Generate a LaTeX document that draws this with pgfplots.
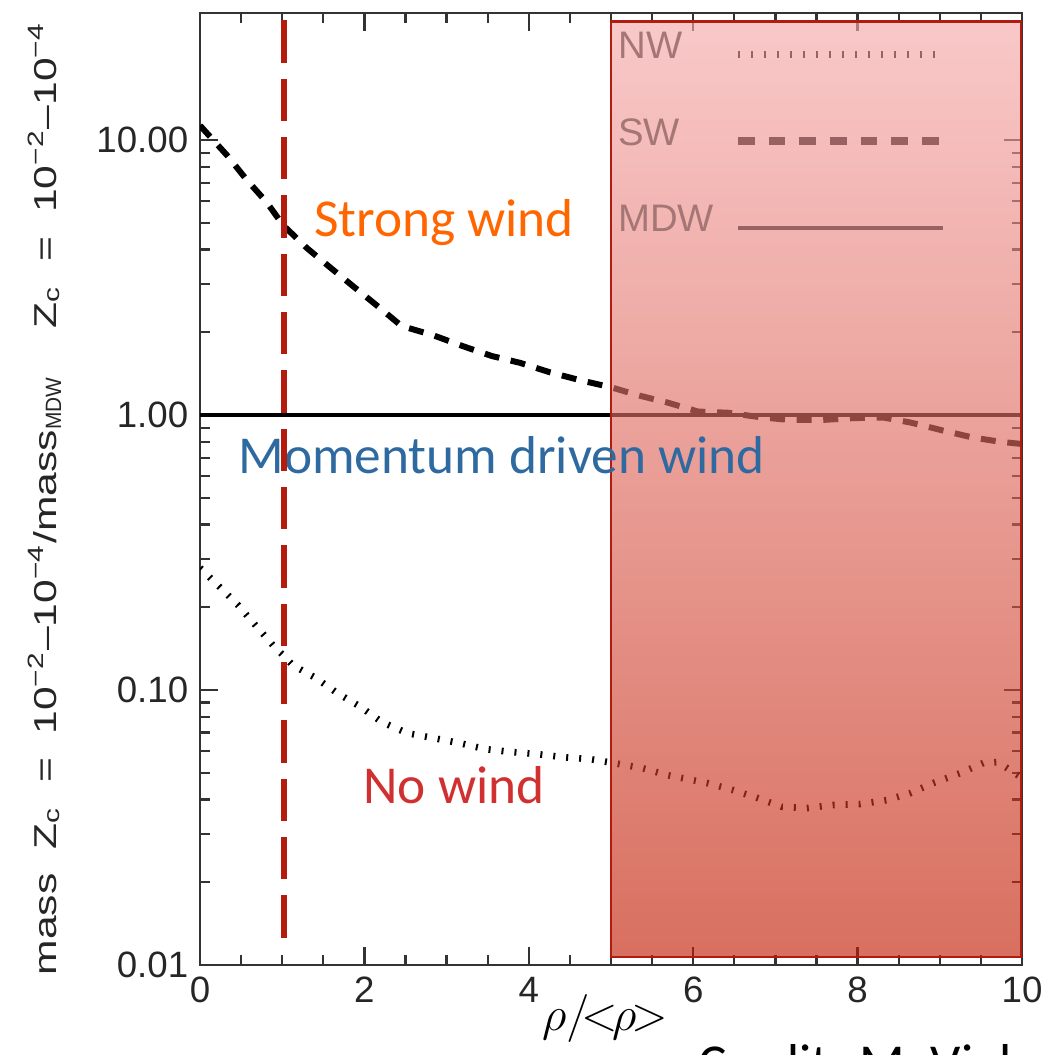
\documentclass[border=0pt]{standalone}
\usepackage{graphicx}
\usepackage{fontspec}
\setmainfont{Liberation Sans}
\newfontfamily\carlito{Carlito}
\usepackage{pgfplots}
\pgfplotsset{compat=1.18}

\definecolor{legline}{RGB}{152,98,98}
\definecolor{legtext}{RGB}{165,118,118}
\definecolor{rectTop}{RGB}{245,169,169}
\definecolor{rectBot}{RGB}{194,31,6}
\definecolor{rectEdge}{RGB}{176,28,16}
\definecolor{vline}{RGB}{180,28,14}
\definecolor{orangeT}{RGB}{255,102,0}
\definecolor{blueT}{RGB}{46,106,160}
\definecolor{redT}{RGB}{208,48,48}

\begin{document}
\begin{tikzpicture}
\begin{axis}[
  scale only axis, width=246.6pt, height=285.6pt,
  xmin=0, xmax=10, ymode=log, ymin=0.01, ymax=29,
  xtick={0,2,4,6,8,10}, xticklabels={0,2,4,6,8,10},
  minor x tick num=3,
  ytick={0.01,0.1,1,10}, yticklabels={0.01,0.10,1.00,10.00},
  major tick length=5.5pt, minor tick length=3pt,
  tick align=inside,
  axis line style={black!80, line width=0.8pt},
  every tick/.style={black!80, line width=0.7pt},
  xticklabel style={font=\fontsize{11}{13}\selectfont, text=black!85},
  yticklabel style={font=\fontsize{11}{13}\selectfont, text=black!85},
  xlabel={$\rho/\mkern-3mu{<}\mkern-2mu\rho\mkern-2mu{>}$},
  xlabel style={at={(axis description cs:0.493,-0.056)}, anchor=center, font=\fontsize{15}{17}\selectfont},
  ylabel={\resizebox{286pt}{\height}{mass~~Z\textsubscript{c}~~=~~10\textsuperscript{−2}–10\textsuperscript{−4}/mass\textsubscript{\scalebox{0.7}[1]{MDW}}~~~~Z\textsubscript{c}~~=~~10\textsuperscript{−2}–10\textsuperscript{−4}}},
  ylabel style={at={(axis description cs:-0.189,0.49)}, anchor=center, font=\fontsize{9.5}{11}\selectfont, text=black!85},
  legend style={at={(axis cs:5.0,26.2)}, anchor=north west, draw=none, fill=none,
    font=\fontsize{11.5}{13}\selectfont\color{legtext}, row sep=12.5pt, column sep=4pt, inner sep=0pt,
    cells={anchor=west}},
  legend plot pos=right,
  legend image code/.code={\draw[#1] (0pt,-2pt) -- (61.5pt,-2pt);},
]
% NW
\addplot[forget plot, black, line width=2pt, dash pattern=on 0.6pt off 3.3pt] coordinates {
(0,0.278) (0.24,0.237) (0.46,0.204) (0.69,0.17) (0.91,0.143) (1.01,0.134) (1.13,0.123) (1.4,0.111) (1.67,0.0975) (1.95,0.087) (2.21,0.0766) (2.52,0.0697) (2.84,0.0669) (3.16,0.0641) (3.47,0.061) (3.77,0.0596) (4.1,0.0585) (4.42,0.057) (4.74,0.0561) (5.03,0.0543) (5.38,0.052) (5.69,0.049) (6.17,0.0459) (6.48,0.0433) (6.78,0.0405) (7.08,0.0376) (7.38,0.0372) (7.7,0.0382) (8.03,0.0385) (8.36,0.0398) (8.64,0.0422) (8.92,0.0459) (9.25,0.0499) (9.53,0.0543) (9.7,0.0547) (9.82,0.052) (9.95,0.049) (10,0.048)
};
% SW
\addplot[forget plot, black, line width=1.8pt, dash pattern=on 4.5pt off 3.5pt] coordinates {
(0,11.3) (0.33,8.8) (0.57,7.16) (0.81,5.95) (1.01,4.91) (1.3,4.05) (1.58,3.45) (1.87,2.93) (2.19,2.45) (2.45,2.11) (2.84,1.95) (3.2,1.78) (3.55,1.64) (3.89,1.55) (4.26,1.43) (4.62,1.34) (5.01,1.26) (5.33,1.18) (5.69,1.11) (6.06,1.03) (6.42,1.02) (6.84,0.98) (7.18,0.96) (7.57,0.96) (7.95,0.975) (8.31,0.98) (8.64,0.94) (9.03,0.88) (9.39,0.83) (9.73,0.80) (10,0.785)
};
% MDW
\addplot[forget plot, black, line width=1.2pt] coordinates {(0,1) (10,1)};

% shaded region
\path[top color=rectTop, bottom color=rectBot, fill opacity=0.64] (axis cs:5,0.0107) rectangle (axis cs:9.99,27);
\draw[rectEdge, line width=0.8pt] (axis cs:5,0.0107) rectangle (axis cs:9.99,27);

% annotations
\node[font=\carlito\fontsize{16}{19}\selectfont, text=orangeT] at (axis cs:2.97,5.03) {Strong wind};
\node[font=\carlito\fontsize{16}{19}\selectfont, text=blueT] at (axis cs:3.67,0.716) {Momentum driven wind};
\node[font=\carlito\fontsize{16}{19}\selectfont, text=redT] at (axis cs:3.09,0.0451) {No wind};

% vertical dashed line
\addplot[forget plot, vline, line width=1.8pt, dash pattern=on 12.7pt off 4.8pt] coordinates {(1.02,27.3) (1.02,0.0123)};

% legend
\addlegendimage{legline, line width=2pt, dash pattern=on 0.6pt off 3.3pt}
\addlegendentry{NW}
\addlegendimage{legline, line width=2.4pt, dash pattern=on 5pt off 4.2pt}
\addlegendentry{SW}
\addlegendimage{legline, line width=1.2pt}
\addlegendentry{MDW}
\end{axis}
\node[anchor=base west, font=\carlito\fontsize{16}{19}\selectfont] at ([shift={(146pt,-35pt)}]current axis.south west) {Credit: M. Viel};
\path (current axis.south west) ++(-60pt,-27pt) coordinate (bl);
\path (current axis.north east) ++(6.9pt,3.9pt) coordinate (tr);
\pgfresetboundingbox
\useasboundingbox (bl) rectangle (tr);
\end{tikzpicture}
\end{document}
